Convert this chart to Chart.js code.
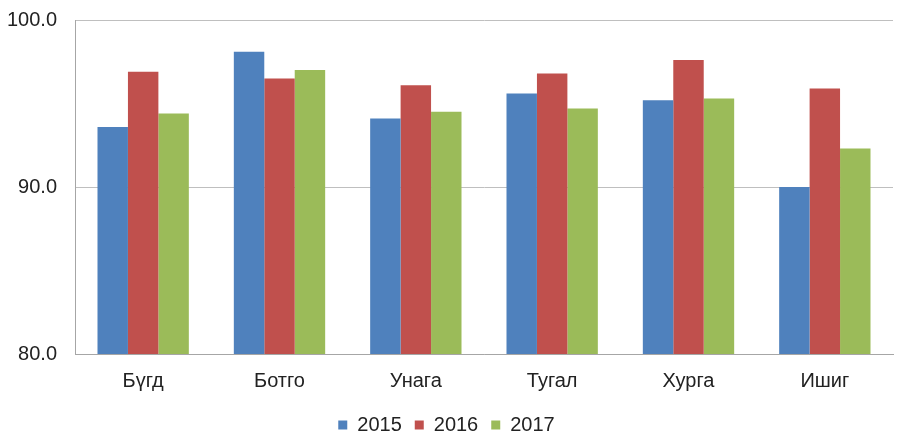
<!DOCTYPE html>
<html><head><meta charset="utf-8">
<script src="https://cdn.jsdelivr.net/npm/chart.js@4"></script>
<style>html,body{margin:0;padding:0;background:#fff}#wrap{width:898px;height:432px}</style>
</head><body><div id="wrap"><canvas id="c" width="898" height="432"></canvas></div>
<script>
const categories = ["Бүгд", "Ботго", "Унага", "Тугал", "Хурга", "Ишиг"];
const seriesNames = ["2015", "2016", "2017"];
const values2015 = [93.6, 98.1, 94.1, 95.6, 95.2, 90.0];
const values2016 = [96.9, 96.5, 96.1, 96.8, 97.6, 95.9];
const values2017 = [94.4, 97.0, 94.5, 94.7, 95.3, 92.3];
const colors = ["#4F81BD", "#C0504D", "#9BBB59"];

const font = {family: "'Liberation Sans', Arial, sans-serif", size: 20};
new Chart(document.getElementById('c'), {
  type: 'bar',
  data: {
    labels: categories,
    datasets: [values2015, values2016, values2017].map((v, i) => ({
      label: seriesNames[i], data: v, backgroundColor: colors[i],
      categoryPercentage: 0.67, barPercentage: 1.0
    }))
  },
  options: {
    responsive: false, animation: false,
    layout: {padding: {top: 20, right: 5, left: 0, bottom: -13}},
    plugins: {
      tooltip: {enabled: false},
      legend: {
        position: 'bottom',
        labels: {font: font, color: '#222', boxWidth: 9, boxHeight: 9, padding: 13}
      }
    },
    scales: {
      x: {
        afterFit: s => { s.height = 48; },
        grid: {display: false, drawTicks: false},
        border: {color: '#A6A6A6', width: 1},
        ticks: {font: font, color: '#222', padding: 15}
      },
      y: {
        min: 80, max: 100,
        afterFit: s => { s.width = 75; s.paddingTop = 0; s.paddingBottom = 0; },
        grid: {color: '#BFBFBF', drawTicks: false},
        border: {color: '#A6A6A6', width: 1},
        ticks: {font: font, color: '#222', stepSize: 10, padding: 18,
                callback: v => Number(v).toFixed(1)}
      }
    }
  }
});
</script></body></html>
